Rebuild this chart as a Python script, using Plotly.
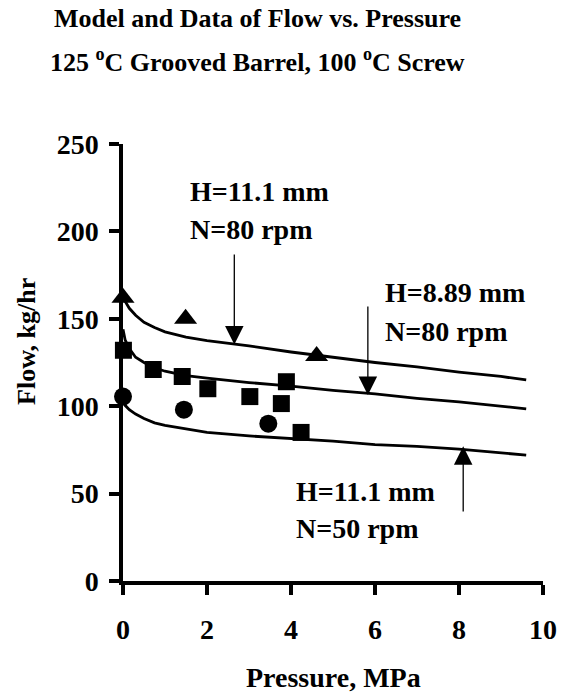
import plotly.graph_objects as go

# ---- data ----
model_pressure = [0, 0.05, 0.15, 0.3, 0.5, 0.75, 1, 1.5, 2, 3, 4, 5, 6, 7, 8, 9, 9.6]
model_flow_h111_n80 = [165, 160, 156, 152, 148, 145, 142.5, 139.5, 137.5, 134.5, 131, 128, 125, 122.5, 119.5, 117, 115]
model_flow_h889_n80 = [144, 138, 133, 128, 125, 122, 120, 117.5, 116, 113.5, 111.5, 109, 107, 104.5, 102.5, 100, 98.5]
model_flow_h111_n50 = [103, 100.5, 98, 95.5, 93, 90.5, 89, 87, 85, 83, 81.5, 80, 78, 77, 75.5, 73.5, 72]

data_h111_n80_pressure = [0, 1.49, 4.61]
data_h111_n80_flow = [162, 150, 128.7]
data_h889_n80_pressure = [0.01, 0.72, 1.41, 2.02, 3.02, 3.89, 3.77, 4.24]
data_h889_n80_flow = [132, 121, 117, 110, 105.5, 114, 101.5, 85]
data_h111_n50_pressure = [0, 1.45, 3.46]
data_h111_n50_flow = [105.5, 98, 90]

x_ticks = [0, 2, 4, 6, 8, 10]
y_ticks = [0, 50, 100, 150, 200, 250]

labels = [
    # (text, x, y)
    ("H=11.1 mm", 1.54, 222.8),
    ("N=80 rpm", 1.54, 200.9),
    ("H=8.89 mm", 6.18, 164.8),
    ("N=80 rpm", 6.18, 142.6),
    ("H=11.1 mm", 4.07, 51.0),
    ("N=50 rpm", 4.07, 30.0),
]
arrows = [
    # (x, tip_y, tail_y)
    (2.65, 135.3, 187.7),
    (5.83, 106.4, 157.9),
    (8.10, 77.1, 38.9),
]

FONT = "Liberation Serif"

fig = go.Figure()
for yv in [model_flow_h111_n80, model_flow_h889_n80, model_flow_h111_n50]:
    fig.add_trace(go.Scatter(x=model_pressure, y=yv, mode="lines",
                             line=dict(color="black", width=2.8),
                             cliponaxis=False, showlegend=False))

fig.add_trace(go.Scatter(x=data_h111_n80_pressure, y=data_h111_n80_flow, mode="markers",
                         marker=dict(symbol="triangle-up", size=20, color="black"),
                         cliponaxis=False, showlegend=False))
fig.add_trace(go.Scatter(x=data_h889_n80_pressure, y=data_h889_n80_flow, mode="markers",
                         marker=dict(symbol="square", size=17, color="black"),
                         cliponaxis=False, showlegend=False))
fig.add_trace(go.Scatter(x=data_h111_n50_pressure, y=data_h111_n50_flow, mode="markers",
                         marker=dict(symbol="circle", size=18, color="black"),
                         cliponaxis=False, showlegend=False))

annotations = []
for text, x, y in labels:
    annotations.append(dict(text=text, x=x, y=y, xref="x", yref="y",
                            xanchor="left", yanchor="middle", showarrow=False,
                            font=dict(family=FONT, size=28, color="black", weight="bold")))
for x, tip, tail in arrows:
    annotations.append(dict(text="", x=x, y=tip, ax=x, ay=tail, xref="x", yref="y",
                            axref="x", ayref="y", showarrow=True, arrowhead=2,
                            arrowwidth=1.3, arrowsize=2.85, arrowcolor="black"))

# titles
annotations.append(dict(text="Model and Data of Flow vs. Pressure", x=0.3194, y=1.288,
                        xref="paper", yref="paper", xanchor="center", yanchor="middle",
                        showarrow=False,
                        font=dict(family=FONT, size=26, color="black", weight="bold")))
annotations.append(dict(text="125 <sup>o</sup>C Grooved Barrel, 100 <sup>o</sup>C Screw", x=0.3194, y=1.19,
                        xref="paper", yref="paper", xanchor="center", yanchor="middle",
                        showarrow=False,
                        font=dict(family=FONT, size=26, color="black", weight="bold")))
annotations.append(dict(text="Pressure, MPa", x=0.5, y=-0.2206,
                        xref="paper", yref="paper", xanchor="center", yanchor="middle",
                        showarrow=False,
                        font=dict(family=FONT, size=28, color="black", weight="bold")))
annotations.append(dict(text="Flow, kg/hr", x=-0.23, y=0.548, textangle=-90,
                        xref="paper", yref="paper", xanchor="center", yanchor="middle",
                        showarrow=False,
                        font=dict(family=FONT, size=26, color="black", weight="bold")))

tickfont = dict(family=FONT, size=28, color="black", weight="bold")
fig.update_layout(
    width=569, height=696, autosize=False,
    margin=dict(l=123.3, r=24, t=144.2, b=115.3, pad=0),
    paper_bgcolor="white", plot_bgcolor="white",
    showlegend=False,
    annotations=annotations,
    xaxis=dict(range=[0, 10], tickvals=x_ticks, ticktext=[str(v) for v in x_ticks],
               showgrid=False, zeroline=False, showline=True, linecolor="black", linewidth=3.5,
               ticks="outside", ticklen=10, tickwidth=3.5, tickcolor="black",
               tickfont=tickfont, ticklabelstandoff=11, fixedrange=True),
    yaxis=dict(range=[0, 250], tickvals=y_ticks, ticktext=[str(v) for v in y_ticks],
               showgrid=False, zeroline=False, showline=True, linecolor="black", linewidth=3.5,
               ticks="outside", ticklen=10, tickwidth=3.5, tickcolor="black",
               tickfont=tickfont, ticklabelstandoff=5, fixedrange=True),
)

fig.write_html("out.html", config={"displayModeBar": False})
